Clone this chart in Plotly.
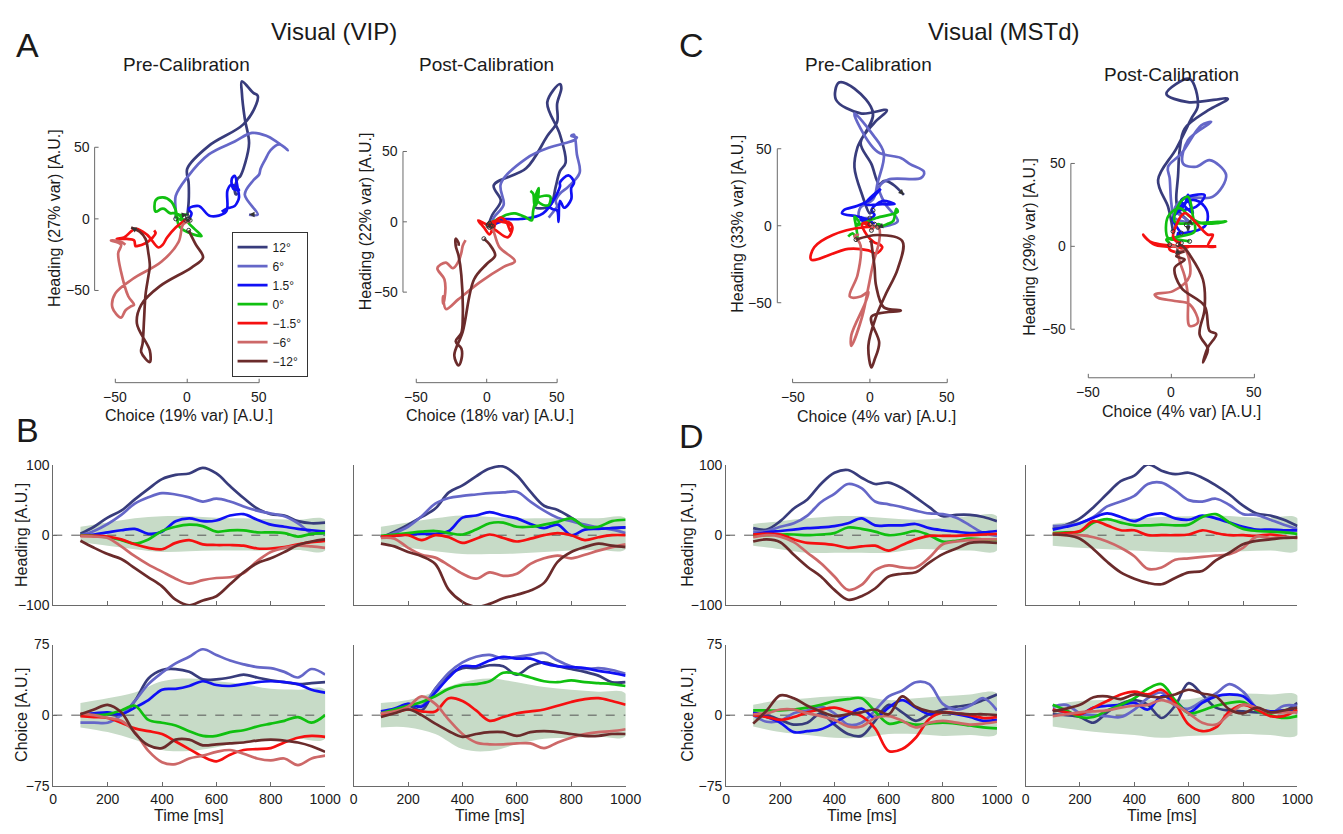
import plotly.graph_objects as go

W, H = 1343, 834
FONT = "Liberation Sans, Arial, Helvetica, sans-serif"
AXC = "#6a6a6a"
TXT = "#1a1a1a"

# ---------------- data ----------------
T = list(range(100, 1001, 50))          # ms
BAND_T = list(range(100, 1001, 100))    # ms
CONDITIONS = ["12°", "6°", "1.5°", "0°", "−1.5°", "−6°", "−12°"]
COLORS = ["#383c7c", "#6567c8", "#1010f5", "#10c010", "#f51010", "#cd6868", "#6b2b2b"]

VIP_PRE_HEADING = [
    [2, 12, 25, 35, 51, 66, 80, 86, 88, 96, 88, 70, 53, 38, 30, 28, 20, 17, 18],
    [0, 6, 16, 29, 45, 54, 60, 58, 54, 48, 52, 48, 41, 35, 31, 27, 17, 3, 3],
    [0, 1, 4, 7, 9, 2, 5, 20, 24, 20, 21, 28, 30, 22, 15, 12, 9, 7, 5],
    [0, -1, -3, -7, -12, -6, 6, 12, 15, 13, 5, 7, 7, 4, 4, 3, -2, 2, 3],
    [-1, -1, -2, -6, -13, -18, -20, -11, -7, -13, -14, -14, -15, -19, -19, -17, -13, -10, -8],
    [-1, -2, -4, -16, -30, -42, -52, -62, -69, -64, -61, -60, -54, -37, -24, -18, -15, -16, -18],
    [-8, -18, -27, -34, -47, -60, -73, -92, -100, -93, -87, -70, -53, -40, -33, -24, -14, -9, -6],
]
VIP_PRE_CHOICE = [
    [0, 1, 1, 0, 15, 39, 48, 49, 46, 38, 38, 40, 43, 40, 37, 35, 33, 34, 35],
    [-8, -8, -8, 0, 15, 33, 45, 55, 62, 70, 64, 58, 54, 51, 50, 46, 40, 49, 43],
    [1, 2, 3, 1, 8, 16, 27, 28, 31, 36, 32, 31, 33, 35, 36, 35, 33, 27, 24],
    [0, 0, 1, 5, 10, -5, -8, -11, -17, -22, -22, -18, -16, -12, -9, -6, -2, -8, 0],
    [-1, -2, -3, -8, -14, -17, -20, -28, -36, -44, -49, -42, -37, -36, -35, -29, -24, -22, -23],
    [2, 0, -3, -6, -18, -38, -50, -52, -46, -43, -39, -37, -41, -46, -48, -46, -53, -46, -43],
    [1, 6, 11, 3, -19, -32, -35, -26, -26, -32, -31, -30, -29, -27, -26, -27, -29, -33, -39],
]
VIP_POST_HEADING = [
    [-3, 5, 15, 26, 38, 61, 71, 84, 95, 98, 85, 62, 42, 36, 25, 13, 10, 10, 11],
    [-3, 3, 12, 27, 45, 53, 56, 58, 60, 61, 62, 48, 35, 25, 20, 15, 11, 8, 3],
    [-3, -1, 1, 2, 2, 6, 25, 28, 33, 28, 24, 16, 10, 15, 0, 8, 9, 10, 11],
    [-1, 1, 3, 5, 6, 3, 1, 8, 17, 18, 12, 12, 15, 19, 24, 12, 12, 20, 22],
    [-2, -1, 0, -7, 0, -3, -11, -5, 1, -4, -9, -5, 0, 3, 0, -7, -3, 0, 0],
    [-4, -5, -18, -28, -32, -43, -55, -62, -53, -58, -55, -41, -33, -29, -33, -28, -22, -17, -13],
    [-12, -16, -24, -30, -41, -78, -95, -102, -98, -90, -85, -79, -68, -38, -24, -17, -12, -15, -17],
]
VIP_POST_CHOICE = [
    [1, 4, 10, 5, 28, 43, 50, 50, 53, 52, 43, 52, 56, 52, 49, 46, 42, 35, 35],
    [3, 5, 12, 10, 28, 45, 56, 62, 64, 60, 62, 64, 66, 58, 52, 49, 50, 48, 44],
    [4, 7, 12, 9, 24, 40, 52, 52, 58, 62, 60, 60, 55, 52, 51, 50, 47, 45, 42],
    [2, 6, 10, 14, 20, 28, 32, 33, 36, 45, 44, 40, 36, 35, 37, 35, 34, 33, 31],
    [1, 3, 6, 4, 4, 18, 15, 5, -6, -2, 2, 4, 6, 10, 14, 17, 18, 15, 11],
    [2, 4, 9, 20, 12, -5, -20, -29, -31, -31, -30, -30, -35, -29, -24, -20, -18, -17, -15],
    [-2, 2, 6, 0, -9, -17, -23, -20, -18, -18, -22, -18, -17, -18, -20, -22, -22, -20, -20],
]
MSTD_PRE_HEADING = [
    [10, 8, 20, 38, 51, 73, 89, 93, 82, 73, 75, 67, 54, 40, 27, 29, 29, 26, 20],
    [5, 6, 12, 17, 28, 47, 59, 73, 67, 48, 44, 40, 35, 31, 30, 25, 14, 3, -1],
    [1, 4, 6, 8, 10, 11, 13, 17, 24, 14, 14, 14, 16, 10, 7, 5, 3, 4, 6],
    [-1, 0, 1, 1, 0, 1, 3, 11, 9, 5, 0, 2, 6, 0, -9, -8, -5, -6, -7],
    [1, 2, 1, -6, -11, -12, -14, -18, -16, -15, -22, -14, -6, -1, -1, -1, 0, 1, 2],
    [-3, 0, -2, -10, -25, -40, -59, -78, -71, -50, -43, -46, -46, -32, -13, -9, -7, -6, -6],
    [-9, -6, -10, -28, -45, -59, -78, -92, -87, -76, -59, -55, -53, -39, -27, -19, -11, -10, -11],
]
MSTD_PRE_CHOICE = [
    [2, 0, -5, -10, -8, 2, -10, -20, -22, -6, 11, 3, -6, 1, 6, 9, 11, 16, 22],
    [0, -7, -6, 2, 5, 9, 2, -10, -8, 5, 20, 26, 35, 33, 12, 6, 10, 18, 5],
    [3, -2, -8, -18, -17, -15, -8, 0, 7, -3, 8, 16, 8, 1, 3, 1, -2, -6, -5],
    [5, 5, 5, 6, 8, 11, 15, 17, 18, 4, -9, -7, -10, -9, -8, -9, -11, -13, -14],
    [0, -2, -5, -2, 3, 6, 8, 4, -1, -14, -38, -36, -24, -4, 3, 2, 0, -3, -2],
    [1, 2, 6, 6, 2, -1, -5, -12, -12, -3, -1, -6, -13, -8, -6, -8, -10, -9, -7],
    [-9, 5, 21, 18, 10, 4, -1, 1, 3, 6, 1, 20, 9, 4, 3, 2, 1, 1, 0],
]
MSTD_POST_HEADING = [
    [9, 15, 24, 40, 59, 77, 85, 101, 92, 87, 89, 82, 71, 58, 42, 31, 28, 22, 13],
    [13, 14, 17, 26, 41, 48, 56, 73, 75, 64, 50, 48, 52, 43, 30, 29, 22, 15, 9],
    [8, 12, 17, 25, 31, 26, 20, 28, 31, 24, 22, 28, 24, 18, 12, 8, 8, 7, 7],
    [3, 4, 5, 18, 23, 18, 14, 14, 15, 14, 15, 26, 30, 18, 9, 6, 5, 4, 2],
    [2, 3, 6, 20, 14, 7, 7, 0, 0, 0, 1, 7, 3, 0, 0, -1, 1, -2, -4],
    [1, 0, 0, -3, -9, -18, -30, -48, -46, -35, -33, -31, -29, -27, -18, -2, -4, -3, -3],
    [1, 0, -5, -20, -38, -53, -62, -68, -70, -61, -53, -51, -36, -25, -13, -8, -6, -4, -3],
]
MSTD_POST_CHOICE = [
    [1, 0, -2, -8, 3, 12, 16, 11, -3, 10, 34, 22, 8, 5, 4, 3, 3, 4, 13],
    [9, 11, 2, 0, -1, -2, 6, 18, 24, 10, 7, 15, 23, 33, 25, 8, 2, 10, 10],
    [6, 3, 1, 8, 10, 11, 13, 6, 20, 15, 3, 13, 20, 22, 20, 8, 4, 5, 3],
    [11, 5, -2, -2, 5, 11, 18, 28, 33, 16, 2, 5, 10, 13, 14, 5, 0, -3, -1],
    [6, 3, 1, 8, 15, 22, 25, 22, 27, 13, -10, -17, -13, 4, 11, 6, -1, -1, 6],
    [-1, 1, 3, 4, 5, 8, 10, 11, 16, 11, 2, -8, -10, 1, 11, 8, 3, 3, 3],
    [4, 7, 11, 19, 20, 17, 22, 20, 19, 22, 27, 23, 20, 6, 2, 8, 3, 5, 8],
]

# shuffle-control bands (upper / lower), sampled at BAND_T
VIP_PRE_HEADING_HI = [12, 18, 24, 27, 27, 25, 24, 23, 22, 22]
VIP_PRE_HEADING_LO = [-10, -15, -20, -24, -23, -22, -22, -22, -21, -22]
VIP_POST_HEADING_HI = [12, 18, 24, 28, 26, 24, 24, 24, 24, 24]
VIP_POST_HEADING_LO = [-12, -18, -23, -27, -27, -26, -24, -22, -21, -20]
VIP_PRE_CHOICE_HI = [13, 18, 24, 36, 39, 36, 33, 28, 27, 27]
VIP_PRE_CHOICE_LO = [-13, -18, -26, -37, -38, -34, -28, -26, -25, -25]
VIP_POST_CHOICE_HI = [13, 16, 25, 35, 39, 35, 30, 27, 25, 23]
VIP_POST_CHOICE_LO = [-13, -13, -20, -36, -38, -31, -25, -24, -23, -22]
MSTD_PRE_HEADING_HI = [16, 20, 24, 27, 27, 24, 22, 24, 27, 27]
MSTD_PRE_HEADING_LO = [-15, -20, -25, -25, -25, -25, -20, -21, -22, -22]
MSTD_POST_HEADING_HI = [16, 20, 22, 24, 26, 27, 28, 26, 25, 24]
MSTD_POST_HEADING_LO = [-15, -18, -20, -22, -24, -25, -24, -23, -22, -22]
MSTD_PRE_CHOICE_HI = [11, 16, 18, 20, 20, 16, 18, 20, 22, 23]
MSTD_PRE_CHOICE_LO = [-12, -18, -21, -24, -24, -20, -20, -22, -21, -20]
MSTD_POST_CHOICE_HI = [11, 15, 16, 16, 17, 17, 22, 23, 22, 21]
MSTD_POST_CHOICE_LO = [-12, -16, -19, -21, -24, -22, -21, -20, -21, -21]

TRAJ_TICKS = [-50, 0, 50]
HEADING_TICKS = [-100, 0, 100]
CHOICE_TICKS = [-75, 0, 75]
TIME_TICKS = [0, 200, 400, 600, 800, 1000]


def lab(v):
    return ("−" + str(abs(v))) if v < 0 else str(v)


def xa(n):
    return "xaxis" if n == 1 else f"xaxis{n}"


def ya(n):
    return "yaxis" if n == 1 else f"yaxis{n}"


def xr_(n):
    return "x" if n == 1 else f"x{n}"


def yr_(n):
    return "y" if n == 1 else f"y{n}"


fig = go.Figure()
axes = {}
shapes = []
annots = []


def text(x, y, s, size, **kw):
    d = dict(x=x / W, y=1 - y / H, xref="paper", yref="paper", text=s, showarrow=False,
             font=dict(family=FONT, size=size, color=TXT), xanchor="center", yanchor="middle")
    d.update(kw)
    annots.append(d)


# ---------------- trajectory panels ----------------
TOP = [
    dict(n=1, hd=VIP_PRE_HEADING, ch=VIP_PRE_CHOICE, zx=186, zy=215, sx=73, sy=73,
         axx=92, axy=382, dx=(55, 335), dy=(62, 395), legend=True,
         xlab="Choice (19% var) [A.U.]", xl=(188, 415), ylab="Heading (27% var) [A.U.]", yl=(52, 214)),
    dict(n=2, hd=VIP_POST_HEADING, ch=VIP_POST_CHOICE, zx=490, zy=218, sx=71.5, sy=71.7,
         axx=405, axy=382, dx=(370, 650), dy=(62, 395), legend=False,
         xlab="Choice (18% var) [A.U.]", xl=(493, 415), ylab="Heading (22% var) [A.U.]", yl=(367, 218)),
    dict(n=3, hd=MSTD_PRE_HEADING, ch=MSTD_PRE_CHOICE, zx=879, zy=222, sx=78.5, sy=78.5,
         axx=785, axy=382, dx=(750, 1030), dy=(62, 395), legend=False,
         xlab="Choice (4% var) [A.U.]", xl=(886, 416), ylab="Heading (33% var) [A.U.]", yl=(745, 220)),
    dict(n=4, hd=MSTD_POST_HEADING, ch=MSTD_POST_CHOICE, zx=1185, zy=243, sx=84.3, sy=84.5,
         axx=1083, axy=377, dx=(1050, 1335), dy=(62, 395), legend=False,
         xlab="Choice (4% var) [A.U.]", xl=(1195, 411), ylab="Heading (29% var) [A.U.]", yl=(1041, 243)),
]

for p in TOP:
    n = p["n"]
    xrange_ = [(p["dx"][0] - p["zx"]) / p["sx"] * 50, (p["dx"][1] - p["zx"]) / p["sx"] * 50]
    yrange_ = [(p["zy"] - p["dy"][1]) / p["sy"] * 50, (p["zy"] - p["dy"][0]) / p["sy"] * 50]
    axes[xa(n)] = dict(domain=[p["dx"][0] / W, p["dx"][1] / W], range=xrange_, visible=False,
                       anchor=yr_(n), fixedrange=True)
    axes[ya(n)] = dict(domain=[1 - p["dy"][1] / H, 1 - p["dy"][0] / H], range=yrange_, visible=False,
                       anchor=xr_(n), fixedrange=True)
    for c in range(7):
        cx, cy = p["ch"][c], p["hd"][c]
        fig.add_trace(go.Scatter(x=cx, y=cy, mode="lines", name=CONDITIONS[c],
                                 line=dict(color=COLORS[c], width=2.7, shape="spline"),
                                 xaxis=xr_(n), yaxis=yr_(n), showlegend=p["legend"],
                                 hoverinfo="skip"))
    for c in range(7):
        cx, cy = p["ch"][c], p["hd"][c]
        fig.add_trace(go.Scatter(x=[cx[0]], y=[cy[0]], mode="markers",
                                 marker=dict(symbol="circle-open", size=4, color="#333",
                                             line=dict(width=1)),
                                 xaxis=xr_(n), yaxis=yr_(n), showlegend=False, hoverinfo="skip"))
        tx = cx[-1] + 0.35 * (cx[-2] - cx[-1])
        ty = cy[-1] + 0.35 * (cy[-2] - cy[-1])
        annots.append(dict(x=cx[-1], y=cy[-1], ax=tx, ay=ty, xref=xr_(n), yref=yr_(n),
                           axref=xr_(n), ayref=yr_(n), text="", showarrow=True,
                           arrowhead=2, arrowsize=1.1, arrowwidth=1, arrowcolor="#333"))
    # detached axes
    xl = (p["axx"] - p["zx"]) / p["sx"] * 50
    yl = (p["zy"] - p["axy"]) / p["sy"] * 50
    tkx = 4 / p["sx"] * 50
    tky = 4 / p["sy"] * 50
    ln = dict(color=AXC, width=1)
    shapes.append(dict(type="line", xref=xr_(n), yref=yr_(n), x0=xl, x1=xl,
                       y0=TRAJ_TICKS[0], y1=TRAJ_TICKS[-1], line=ln))
    shapes.append(dict(type="line", xref=xr_(n), yref=yr_(n), y0=yl, y1=yl,
                       x0=TRAJ_TICKS[0], x1=TRAJ_TICKS[-1], line=ln))
    for v in TRAJ_TICKS:
        shapes.append(dict(type="line", xref=xr_(n), yref=yr_(n), x0=xl, x1=xl + tkx, y0=v, y1=v, line=ln))
        shapes.append(dict(type="line", xref=xr_(n), yref=yr_(n), x0=v, x1=v, y0=yl, y1=yl + tky, line=ln))
        annots.append(dict(x=xl, y=v, xref=xr_(n), yref=yr_(n), text=lab(v), showarrow=False,
                           xanchor="right", yanchor="middle", xshift=-3,
                           font=dict(family=FONT, size=14, color=TXT)))
        annots.append(dict(x=v, y=yl, xref=xr_(n), yref=yr_(n), text=lab(v), showarrow=False,
                           xanchor="center", yanchor="top", yshift=-4,
                           font=dict(family=FONT, size=14, color=TXT)))
    text(p["xl"][0], p["xl"][1], p["xlab"], 16)
    text(p["yl"][0], p["yl"][1], p["ylab"], 16, textangle=-90)

# ---------------- time-course panels ----------------
BOT = [
    dict(n=5, d=VIP_PRE_HEADING, hi=VIP_PRE_HEADING_HI, lo=VIP_PRE_HEADING_LO, dx=(50, 326), dy=(466, 609),
         rng=[-100, 100], tk=HEADING_TICKS, ylab=True, xlab=False, title="Heading [A.U.]", tx=17),
    dict(n=6, d=VIP_POST_HEADING, hi=VIP_POST_HEADING_HI, lo=VIP_POST_HEADING_LO, dx=(355, 631), dy=(466, 609),
         rng=[-100, 100], tk=HEADING_TICKS, ylab=False, xlab=False),
    dict(n=7, d=MSTD_PRE_HEADING, hi=MSTD_PRE_HEADING_HI, lo=MSTD_PRE_HEADING_LO, dx=(733, 1008), dy=(466, 609),
         rng=[-100, 100], tk=HEADING_TICKS, ylab=True, xlab=False, title="Heading [A.U.]", tx=694),
    dict(n=8, d=MSTD_POST_HEADING, hi=MSTD_POST_HEADING_HI, lo=MSTD_POST_HEADING_LO, dx=(1037, 1313), dy=(466, 609),
         rng=[-100, 100], tk=HEADING_TICKS, ylab=False, xlab=False),
    dict(n=9, d=VIP_PRE_CHOICE, hi=VIP_PRE_CHOICE_HI, lo=VIP_PRE_CHOICE_LO, dx=(50, 326), dy=(649, 793),
         rng=[-75, 75], tk=CHOICE_TICKS, ylab=True, xlab=True, title="Choice [A.U.]", tx=17),
    dict(n=10, d=VIP_POST_CHOICE, hi=VIP_POST_CHOICE_HI, lo=VIP_POST_CHOICE_LO, dx=(355, 631), dy=(649, 793),
         rng=[-75, 75], tk=CHOICE_TICKS, ylab=False, xlab=True),
    dict(n=11, d=MSTD_PRE_CHOICE, hi=MSTD_PRE_CHOICE_HI, lo=MSTD_PRE_CHOICE_LO, dx=(733, 1008), dy=(649, 793),
         rng=[-75, 75], tk=CHOICE_TICKS, ylab=True, xlab=True, title="Choice [A.U.]", tx=694),
    dict(n=12, d=MSTD_POST_CHOICE, hi=MSTD_POST_CHOICE_HI, lo=MSTD_POST_CHOICE_LO, dx=(1037, 1313), dy=(649, 793),
         rng=[-75, 75], tk=CHOICE_TICKS, ylab=False, xlab=True),
]

for p in BOT:
    n = p["n"]
    common = dict(showline=True, linecolor=AXC, linewidth=1, ticks="inside", ticklen=4,
                  tickcolor=AXC, showgrid=False, zeroline=False, fixedrange=True,
                  tickfont=dict(family=FONT, size=14, color=TXT))
    axes[xa(n)] = dict(domain=[p["dx"][0] / W, p["dx"][1] / W], range=[TIME_TICKS[0], TIME_TICKS[-1]],
                       tickvals=TIME_TICKS, ticktext=[lab(v) for v in TIME_TICKS],
                       showticklabels=p["xlab"], anchor=yr_(n), **common)
    axes[ya(n)] = dict(domain=[1 - p["dy"][1] / H, 1 - p["dy"][0] / H], range=p["rng"],
                       tickvals=p["tk"], ticktext=[lab(v) for v in p["tk"]],
                       showticklabels=p["ylab"], anchor=xr_(n), **common)
    fig.add_trace(go.Scatter(x=BAND_T + BAND_T[::-1], y=p["hi"] + p["lo"][::-1], fill="toself",
                             fillcolor="#c7dbc7", mode="lines", line=dict(width=0, shape="spline"),
                             xaxis=xr_(n), yaxis=yr_(n), showlegend=False, hoverinfo="skip"))
    fig.add_trace(go.Scatter(x=[TIME_TICKS[0], TIME_TICKS[-1]], y=[0, 0], mode="lines",
                             line=dict(color="#555555", width=1, dash="dash"),
                             xaxis=xr_(n), yaxis=yr_(n), showlegend=False, hoverinfo="skip"))
    for c in range(7):
        fig.add_trace(go.Scatter(x=T, y=p["d"][c], mode="lines", name=CONDITIONS[c],
                                 line=dict(color=COLORS[c], width=2.7, shape="spline"),
                                 xaxis=xr_(n), yaxis=yr_(n), showlegend=False, hoverinfo="skip"))
    if "title" in p:
        text(p["tx"], (p["dy"][0] + p["dy"][1]) / 2, p["title"], 16, textangle=-90)
    if p["xlab"]:
        text((p["dx"][0] + p["dx"][1]) / 2, 823, "Time [ms]", 16)

# ---------------- headings ----------------
text(335, 24, "Visual (VIP)", 24)
text(1015, 24, "Visual (MSTd)", 24)
text(185, 58, "Pre-Calibration", 19)
text(490, 58, "Post-Calibration", 19)
text(878, 58, "Pre-Calibration", 19)
text(1185, 68, "Post-Calibration", 19)
text(24, 38, "A", 34)
text(24, 430, "B", 34)
text(698, 38, "C", 34)
text(698, 436, "D", 34)

fig.update_layout(
    width=W, height=H, margin=dict(l=0, r=0, t=0, b=0),
    paper_bgcolor="white", plot_bgcolor="rgba(0,0,0,0)",
    font=dict(family=FONT, color=TXT),
    shapes=shapes, annotations=annots,
    legend=dict(x=231 / W, y=1 - 228 / H, xanchor="left", yanchor="top", bgcolor="white",
                bordercolor="#333", borderwidth=1, itemwidth=30, tracegroupgap=0,
                font=dict(family=FONT, size=12, color=TXT)),
    **axes,
)
fig.write_html("out.html", config={"displayModeBar": False},
               post_script="document.body.style.margin='0';document.body.style.overflow='hidden';")
